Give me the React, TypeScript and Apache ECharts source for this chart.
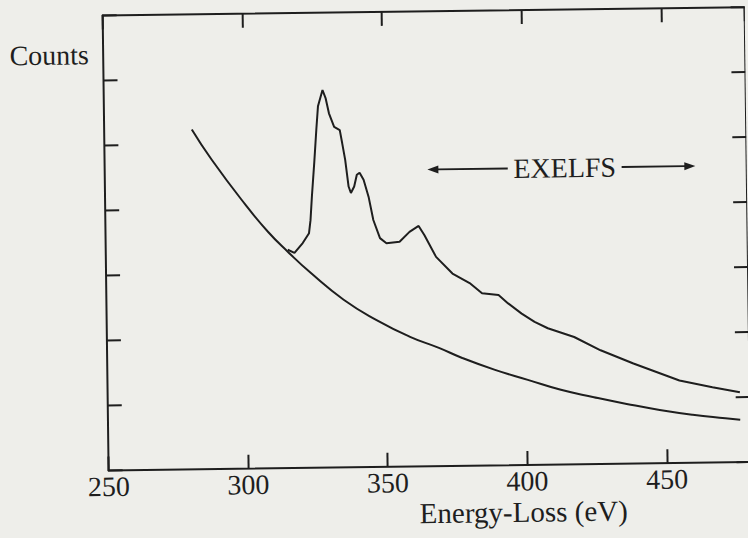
import React, { useEffect, useRef } from "react";
import * as echarts from "echarts";

// Background (pre-edge power-law) curve
const bgEnergy = [281.4, 288.4, 300.1, 308.2, 315.2, 323.3, 335.0, 346.7, 358.4, 368.9, 377.2, 388.9, 400.6, 412.4, 424.2, 435.9, 447.7, 459.5, 471.2, 476.5];
const bgCounts = [5.23, 4.76, 4.07, 3.64, 3.33, 3.0, 2.58, 2.26, 2.0, 1.82, 1.66, 1.47, 1.31, 1.15, 1.03, 0.92, 0.82, 0.74, 0.68, 0.655];

// Measured spectrum (edge + EXELFS)
const specEnergy = [315.2, 317.6, 320.6, 322.9, 323.5, 324.1, 325.1, 326.0, 326.7, 328.4, 329.5, 330.6, 332.4, 334.4, 335.2, 336.2, 337.3, 338.1, 339.3, 340.3, 341.3, 342.7, 344.4, 346.0, 348.3, 350.6, 355.3, 358.9, 362.2, 364.2, 368.3, 374.1, 380.2, 384.6, 390.5, 393.9, 398.7, 403.3, 408.0, 417.4, 426.8, 438.5, 454.9, 466.7, 476.5];
const specCounts = [3.36, 3.31, 3.46, 3.61, 3.81, 4.17, 4.69, 5.2, 5.56, 5.81, 5.68, 5.45, 5.24, 5.19, 4.99, 4.73, 4.32, 4.22, 4.32, 4.5, 4.53, 4.42, 4.16, 3.8, 3.52, 3.44, 3.46, 3.61, 3.7, 3.56, 3.22, 2.96, 2.81, 2.65, 2.62, 2.49, 2.33, 2.2, 2.1, 1.96, 1.75, 1.54, 1.27, 1.16, 1.075];

// Axes
const xMin = 250;
const xMax = 480;
const xStep = 50;
const yMin = 0;
const yMax = 7;
const yStep = 1;

// Texts
const yTitle = "Counts";
const xTitle = "Energy-Loss (eV)";
const annotation = "EXELFS";
// annotation anchors in data space
const annY = 4.565;
const annLeftArrow = [365.6, 394.4];
const annRightArrow = [435.2, 461.6];
const annTextX = 414.8;
const xTitleX = 398.5;
const xTitleY = -0.72;

const INK = "#1e1e1e";
const FONT = "'Liberation Serif', 'Times New Roman', serif";

export default function App() {
  const ref = useRef<HTMLDivElement>(null);
  useEffect(() => {
    if (!ref.current) return;
    const chart = echarts.init(ref.current, null, { renderer: "svg" });
    const axisCommon = {
      axisLine: { show: true, onZero: false, lineStyle: { color: INK, width: 2 } },
      axisTick: { show: true, inside: true, length: 14, lineStyle: { color: INK, width: 2 } },
      splitLine: { show: false },
    };
    const option: any = {
      animation: false,
      backgroundColor: "transparent",
      grid: { left: 106, top: 12, width: 650, height: 455, containLabel: false },
      xAxis: [
        {
          type: "value", position: "bottom", min: xMin, max: xMax, interval: xStep,
          ...axisCommon,
          axisLabel: {
            show: true, margin: 2, color: INK, fontSize: 28, fontFamily: FONT,
            showMaxLabel: false,
          },
        },
        {
          type: "value", position: "top", min: xMin, max: xMax, interval: xStep,
          ...axisCommon,
          axisLabel: { show: false },
        },
      ],
      yAxis: [
        {
          type: "value", position: "left", min: yMin, max: yMax, interval: yStep,
          ...axisCommon,
          axisLabel: { show: false },
        },
        {
          type: "value", position: "right", min: yMin, max: yMax, interval: yStep,
          ...axisCommon,
          axisLabel: { show: false },
        },
      ],
      series: [
        {
          type: "line", name: "background", xAxisIndex: 0, yAxisIndex: 0,
          data: bgEnergy.map((e, i) => [e, bgCounts[i]]),
          smooth: true, showSymbol: false, symbol: "none",
          lineStyle: { color: INK, width: 2 },
        },
        {
          type: "line", name: "spectrum", xAxisIndex: 0, yAxisIndex: 0,
          data: specEnergy.map((e, i) => [e, specCounts[i]]),
          smooth: false, showSymbol: false, symbol: "none",
          lineStyle: { color: INK, width: 2 },
        },
      ],
    };
    chart.setOption(option);

    const px = (x: number, y: number) => chart.convertToPixel({ gridIndex: 0 }, [x, y]) as number[];
    const l0 = px(annLeftArrow[0], annY);
    const l1 = px(annLeftArrow[1], annY);
    const r0 = px(annRightArrow[0], annY);
    const r1 = px(annRightArrow[1], annY);
    const t = px(annTextX, annY);
    const xt = px(xTitleX, xTitleY);
    const head = 11;
    const hw = 4;
    const textStyle = { fill: INK, fontSize: 28, fontFamily: FONT, align: "center", verticalAlign: "middle" };
    chart.setOption({
      graphic: [
        { type: "line", shape: { x1: l0[0] + head - 1, y1: l0[1], x2: l1[0], y2: l1[1] }, style: { stroke: INK, lineWidth: 1.8 } },
        { type: "polygon", shape: { points: [[l0[0], l0[1]], [l0[0] + head, l0[1] - hw], [l0[0] + head, l0[1] + hw]] }, style: { fill: INK } },
        { type: "line", shape: { x1: r0[0], y1: r0[1], x2: r1[0] - head + 1, y2: r1[1] }, style: { stroke: INK, lineWidth: 1.8 } },
        { type: "polygon", shape: { points: [[r1[0], r1[1]], [r1[0] - head, r1[1] - hw], [r1[0] - head, r1[1] + hw]] }, style: { fill: INK } },
        { type: "text", x: t[0], y: t[1], style: { ...textStyle, text: annotation } },
        { type: "text", x: xt[0], y: xt[1], style: { ...textStyle, text: xTitle, fontSize: 29 } },
        { type: "text", x: 52, y: 51, style: { ...textStyle, text: yTitle } },
      ],
    });
    return () => chart.dispose();
  }, []);

  return (
    <div style={{ position: "absolute", left: 0, top: 0, width: 748, height: 538, overflow: "hidden", background: "#eeeeea" }}>
      <div ref={ref} style={{ width: 748, height: 538, transform: "rotate(-0.75deg)", transformOrigin: "374px 269px" }} />
    </div>
  );
}
